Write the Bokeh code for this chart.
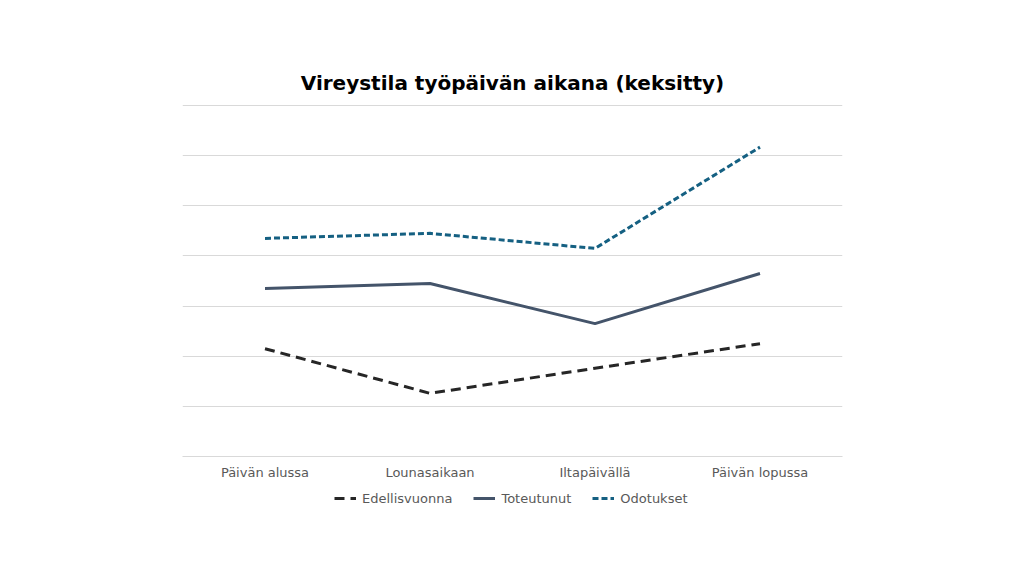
from bokeh.plotting import figure
from bokeh.models import FactorRange, Range1d, FixedTicker, Legend, LegendItem, Title
from bokeh.layouts import column
from bokeh.embed import file_html
from bokeh.resources import INLINE

categories = ["Päivän alussa", "Lounasaikaan", "Iltapäivällä", "Päivän lopussa"]
edellisvuonna = [2.15, 1.26, 1.76, 2.25]
toteutunut = [3.35, 3.45, 2.65, 3.65]
odotukset = [4.35, 4.45, 4.15, 6.17]
series_names = ["Edellisvuonna", "Toteutunut", "Odotukset"]
y_ticks = [0, 1, 2, 3, 4, 5, 6, 7]

FONT = "DejaVu Sans"
styles = [dict(line_color="#262626", line_width=3, line_dash="10 6"),
          dict(line_color="#44546A", line_width=3),
          dict(line_color="#156082", line_width=3, line_dash="6 3")]

p = figure(x_range=FactorRange(*categories, range_padding=0), y_range=Range1d(0, 7.02),
           frame_width=660, frame_height=352, output_backend="svg", toolbar_location=None,
           min_border_left=182, min_border_right=182, min_border_top=104, min_border_bottom=30)
p.outline_line_color = None
p.background_fill_color = "white"
p.border_fill_color = "white"

t = Title(text="Vireystila työpäivän aikana (keksitty)", align="center",
          text_font=FONT, text_font_size="20px", text_font_style="bold",
          text_color="#000000", standoff=20)
p.add_layout(t, "above")

p.yaxis.visible = False
p.ygrid.ticker = FixedTicker(ticks=y_ticks)
p.ygrid.grid_line_color = "#D9D9D9"
p.ygrid.grid_line_width = 1
p.xgrid.grid_line_color = None

xa = p.xaxis[0]
xa.axis_line_color = "#D9D9D9"
xa.major_tick_line_color = None
xa.minor_tick_line_color = None
xa.major_label_text_font = FONT
xa.major_label_text_font_size = "13px"
xa.major_label_text_color = "#595959"
xa.major_label_standoff = 2

for vals, st in zip([edellisvuonna, toteutunut, odotukset], styles):
    p.line(categories, vals, **st)

# Legend strip below the chart (frame aligned with the chart's frame)
lf = figure(width=1024, height=40, x_range=Range1d(0, 1), y_range=Range1d(0, 1),
            x_axis_type=None, y_axis_type=None, output_backend="svg", toolbar_location=None,
            min_border_left=182, min_border_right=182, min_border_top=0, min_border_bottom=0)
lf.outline_line_color = None
lf.xgrid.grid_line_color = None
lf.ygrid.grid_line_color = None
nan = float("nan")
items = []
for name, st in zip(series_names, styles):
    r = lf.line(x=[nan], y=[nan], **st)
    items.append(LegendItem(label=name, renderers=[r]))

legend = Legend(items=items, orientation="horizontal", location=(152, 18),
                label_text_font=FONT, label_text_font_size="13px", label_text_color="#595959",
                border_line_color=None, background_fill_alpha=0,
                glyph_width=22, glyph_height=20, label_height=20,
                label_standoff=6, spacing=21, padding=0, margin=0)
lf.add_layout(legend, "center")

layout = column(p, lf, spacing=0)
open("out.html", "w").write(file_html(layout, INLINE))
